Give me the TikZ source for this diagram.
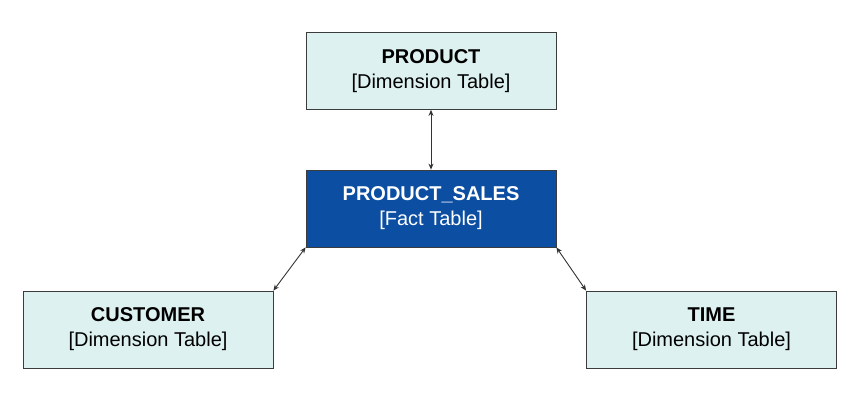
\documentclass[tikz,border=0pt]{standalone}
\usepackage{fontspec}
\setmainfont{Liberation Sans}
\usetikzlibrary{arrows.meta}
\definecolor{dimfill}{RGB}{221,241,241}
\definecolor{factfill}{RGB}{12,78,162}
\definecolor{boxline}{RGB}{60,60,60}
\tikzset{every picture/.style={line width=0.75pt}}
\tikzset{
  dimtable/.style={draw=boxline, fill=dimfill, minimum width=250, minimum height=77, align=center, font=\fontsize{20}{25}\selectfont},
  facttable/.style={dimtable, fill=factfill, text=white},
  link/.style={line width=0.9, <->, >={Stealth[length=6pt,width=5pt]}, draw=black!80}
}
\begin{document}
\begin{tikzpicture}[x=1pt,y=1pt,yscale=-1,xscale=1]
	\useasboundingbox (0,0) rectangle (864,405);

	% Tables
	\node [dimtable] (product) at (431,71) {\textbf{PRODUCT}\\{[}Dimension Table{]}};
	\node [facttable] (sales) at (431,208.5) {\textbf{PRODUCT\_SALES}\\{[}Fact Table{]}};
	\node [dimtable] (customer) at (148,329.5) {\textbf{CUSTOMER}\\{[}Dimension Table{]}};
	\node [dimtable] (time) at (711.5,329.5) {\textbf{TIME}\\{[}Dimension Table{]}};

	% Links
	\draw [link] (product.south) -- (sales.north);
	\draw [link] (sales.south west) -- (customer.north east);
	\draw [link] (sales.south east) -- (time.north west);

\end{tikzpicture}
\end{document}
